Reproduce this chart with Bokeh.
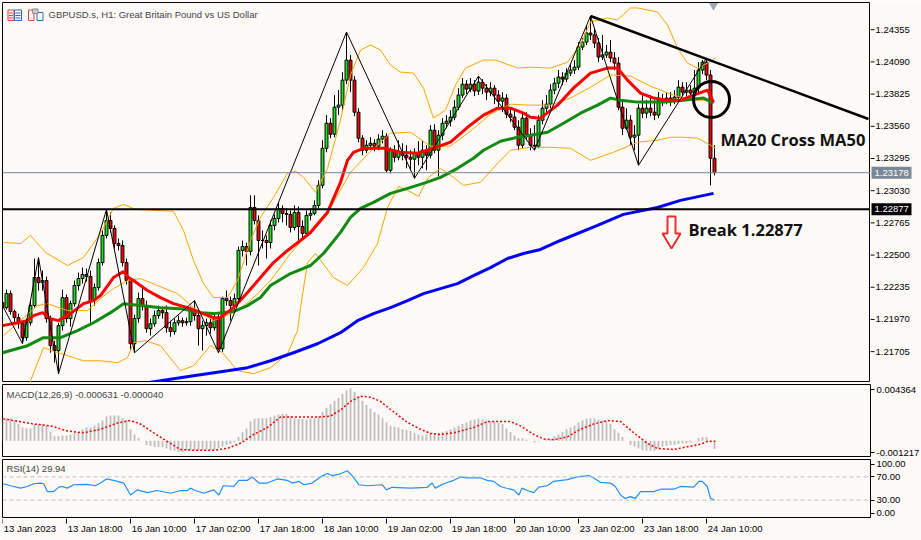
from bokeh.plotting import figure
from bokeh.layouts import column, row
from bokeh.models import Range1d, FixedTicker, Label, Span, ColumnDataSource
from bokeh.embed import file_html
from bokeh.resources import INLINE
from bokeh.core.properties import value

# ---------------- data ----------------
time_tick_bars = [0, 16, 32, 48, 64, 80, 96, 112, 128, 144, 160, 176]
time_tick_labels = ["13 Jan 2023", "13 Jan 18:00", "16 Jan 10:00", "17 Jan 02:00", "17 Jan 18:00",
                    "18 Jan 10:00", "19 Jan 02:00", "19 Jan 18:00", "20 Jan 10:00", "23 Jan 02:00",
                    "23 Jan 18:00", "24 Jan 10:00"]
price_ticks = [1.24355, 1.24090, 1.23825, 1.23560, 1.23295, 1.23030, 1.22765, 1.22500,
               1.22235, 1.21970, 1.21705]

first_open = 1.22108
closes = [
    1.22067, 1.22183, 1.22035, 1.21985, 1.21935, 1.21820, 1.21943, 1.22084, 1.22315, 1.22273,
    1.22290, 1.21977, 1.21754, 1.21713, 1.21919, 1.22150, 1.21977, 1.22100, 1.22249, 1.22307,
    1.22340, 1.22323, 1.22125, 1.22232, 1.22438, 1.22662, 1.22785, 1.22719, 1.22595, 1.22579,
    1.22438, 1.22290, 1.21770, 1.21977, 1.22142, 1.22084, 1.21894, 1.21935, 1.22002, 1.22043,
    1.22026, 1.21902, 1.21870, 1.21943, 1.21960, 1.21943, 1.21952, 1.22043, 1.22002, 1.21894,
    1.21919, 1.21943, 1.21902, 1.21977, 1.21729, 1.22142, 1.22125, 1.22084, 1.22142, 1.22538,
    1.22570, 1.22530, 1.22892, 1.22785, 1.22620, 1.22620, 1.22603, 1.22744, 1.22802, 1.22884,
    1.22843, 1.22835, 1.22727, 1.22851, 1.22735, 1.22678, 1.22827, 1.22843, 1.22909, 1.23074,
    1.23379, 1.23585, 1.23495, 1.23717, 1.23734, 1.23940, 1.24105, 1.23940, 1.23676, 1.23462,
    1.23363, 1.23404, 1.23420, 1.23396, 1.23454, 1.23478, 1.23198, 1.23363, 1.23305, 1.23346,
    1.23322, 1.23305, 1.23289, 1.23338, 1.23305, 1.23363, 1.23322, 1.23528, 1.23363, 1.23487,
    1.23585, 1.23602, 1.23635, 1.23717, 1.23817, 1.23907, 1.23866, 1.23907, 1.23850, 1.23923,
    1.23874, 1.23841, 1.23874, 1.23817, 1.23767, 1.23792, 1.23660, 1.23635, 1.23552, 1.23404,
    1.23627, 1.23487, 1.23404, 1.23396, 1.23610, 1.23709, 1.23742, 1.23858, 1.23915, 1.23965,
    1.23949, 1.23998, 1.24023, 1.24047, 1.24212, 1.24253, 1.24328, 1.24312, 1.24245, 1.24130,
    1.24147, 1.24171, 1.24122, 1.24080, 1.23717, 1.23544, 1.23610, 1.23470, 1.23487, 1.23709,
    1.23668, 1.23709, 1.23676, 1.23652, 1.23775, 1.23775, 1.23792, 1.23775, 1.23800, 1.23882,
    1.23841, 1.23858, 1.23833, 1.23874, 1.24023, 1.24088, 1.23982, 1.23297, 1.23178,
]
highs = [
    1.22142, 1.22216, 1.22208, 1.22051, 1.22018, 1.21952, 1.21977, 1.22125, 1.22472, 1.22480,
    1.22373, 1.22323, 1.22002, 1.21795, 1.21943, 1.22216, 1.22175, 1.22125, 1.22290, 1.22356,
    1.22397, 1.22389, 1.22373, 1.22265, 1.22472, 1.22703, 1.22876, 1.22851, 1.22744, 1.22637,
    1.22620, 1.22472, 1.22307, 1.22010, 1.22191, 1.22232, 1.22125, 1.21977, 1.22043, 1.22084,
    1.22076, 1.22084, 1.21960, 1.21977, 1.22002, 1.21985, 1.21985, 1.22076, 1.22125, 1.22026,
    1.21960, 1.21977, 1.21977, 1.22026, 1.22018, 1.22158, 1.22208, 1.22158, 1.22183, 1.22570,
    1.22620, 1.22603, 1.22992, 1.22992, 1.22827, 1.22703, 1.22662, 1.22785, 1.22835, 1.22925,
    1.22909, 1.22884, 1.22868, 1.22909, 1.22900, 1.22785, 1.22868, 1.22884, 1.22950, 1.23115,
    1.23445, 1.23652, 1.23627, 1.23817, 1.23858, 1.24006, 1.24336, 1.24147, 1.23973, 1.23709,
    1.23487, 1.23445, 1.23470, 1.23454, 1.23495, 1.23528, 1.23503, 1.23387, 1.23404, 1.23445,
    1.23420, 1.23404, 1.23363, 1.23379, 1.23437, 1.23445, 1.23404, 1.23569, 1.23577, 1.23528,
    1.23627, 1.23652, 1.23693, 1.23775, 1.23874, 1.23957, 1.23940, 1.23957, 1.23940, 1.23973,
    1.23949, 1.23907, 1.23923, 1.23899, 1.23858, 1.23841, 1.23825, 1.23709, 1.23693, 1.23610,
    1.23676, 1.23676, 1.23544, 1.23569, 1.23652, 1.23775, 1.23817, 1.23907, 1.23957, 1.24023,
    1.24006, 1.24039, 1.24072, 1.24105, 1.24253, 1.24287, 1.24394, 1.24468, 1.24369, 1.24287,
    1.24312, 1.24229, 1.24270, 1.24171, 1.24130, 1.23775, 1.23709, 1.23652, 1.23569, 1.23742,
    1.23817, 1.23775, 1.23817, 1.23775, 1.23841, 1.23825, 1.23841, 1.23841, 1.23858, 1.23940,
    1.23923, 1.23923, 1.23899, 1.24023, 1.24088, 1.24105, 1.24122, 1.24023, 1.23404,
]
lows = [
    1.22026, 1.22051, 1.22010, 1.21943, 1.21894, 1.21770, 1.21795, 1.21919, 1.22067, 1.22208,
    1.22208, 1.21943, 1.21696, 1.21614, 1.21523, 1.21878, 1.21943, 1.21910, 1.22076, 1.22208,
    1.22265, 1.22282, 1.21943, 1.22084, 1.22208, 1.22414, 1.22637, 1.22686, 1.22554, 1.22538,
    1.22406, 1.22257, 1.21713, 1.21696, 1.21943, 1.22043, 1.21861, 1.21837, 1.21910, 1.21977,
    1.21977, 1.21861, 1.21828, 1.21845, 1.21919, 1.21910, 1.21919, 1.21919, 1.21960, 1.21754,
    1.21713, 1.21837, 1.21853, 1.21878, 1.21696, 1.21704, 1.22084, 1.21960, 1.22043, 1.22108,
    1.22488, 1.22414, 1.22497, 1.22752, 1.22414, 1.22554, 1.22472, 1.22554, 1.22703, 1.22769,
    1.22769, 1.22744, 1.22686, 1.22703, 1.22603, 1.22637, 1.22653, 1.22785, 1.22827, 1.22884,
    1.23049, 1.23346, 1.23462, 1.23470, 1.23652, 1.23693, 1.23907, 1.23841, 1.23643, 1.23429,
    1.23322, 1.23338, 1.23363, 1.23354, 1.23363, 1.23420, 1.23181, 1.23173, 1.23264, 1.23280,
    1.23280, 1.23214, 1.23198, 1.23132, 1.23239, 1.23214, 1.23198, 1.23297, 1.23338, 1.23148,
    1.23445, 1.23544, 1.23560, 1.23610, 1.23693, 1.23792, 1.23825, 1.23841, 1.23808, 1.23817,
    1.23825, 1.23775, 1.23808, 1.23742, 1.23709, 1.23676, 1.23627, 1.23594, 1.23528, 1.23363,
    1.23379, 1.23445, 1.23363, 1.23363, 1.23379, 1.23577, 1.23676, 1.23709, 1.23825, 1.23874,
    1.23899, 1.23923, 1.23973, 1.23990, 1.24023, 1.24188, 1.24229, 1.24270, 1.24204, 1.24088,
    1.24105, 1.24122, 1.24088, 1.24023, 1.23693, 1.23487, 1.23528, 1.23404, 1.23363, 1.23239,
    1.23627, 1.23627, 1.23643, 1.23610, 1.23627, 1.23726, 1.23742, 1.23726, 1.23742, 1.23775,
    1.23808, 1.23808, 1.23792, 1.23808, 1.23841, 1.23990, 1.23940, 1.23074, 1.23156,
]

ma20_x = [0, 3.75, 6.25, 7.75, 10, 12, 14, 17, 20.25, 22.75, 24.5, 27.75, 30.25, 31.5, 32.75, 36.25,
          39.5, 42.75, 46.25, 49.5, 52.75, 54.5, 57.75, 61.25, 64.5, 67.75, 71.25, 74.5, 77, 81.25,
          84.5, 86.25, 87.75, 90.25, 95.25, 99.5, 103.75, 107.75, 112, 116.25, 120.25, 123.75, 127,
          130.25, 132, 134.5, 138.75, 142.75, 147, 151.25, 153.75, 156.25, 159.5, 162.75, 166.25,
          169.5, 172.75, 176.25, 177.75]
ma20_y = [1.21919, 1.21943, 1.21960, 1.22002, 1.22026, 1.21977, 1.21960, 1.22018, 1.22100, 1.22125,
          1.22167, 1.22315, 1.22364, 1.22315, 1.22290, 1.22208, 1.22150, 1.22100, 1.22067, 1.22026,
          1.21985, 1.21985, 1.22067, 1.22191, 1.22315, 1.22438, 1.22538, 1.22620, 1.22686, 1.22851,
          1.23099, 1.23280, 1.23346, 1.23379, 1.23379, 1.23346, 1.23338, 1.23379, 1.23429, 1.23552,
          1.23652, 1.23709, 1.23709, 1.23668, 1.23635, 1.23627, 1.23734, 1.23874, 1.23998, 1.24039,
          1.24039, 1.23940, 1.23833, 1.23792, 1.23775, 1.23775, 1.23817, 1.23858, 1.23759]

ma50_x = [0, 6.25, 10.25, 14.5, 18.75, 22.75, 27, 30.25, 34.5, 39.5, 44.5, 49.5, 52.75, 57.75, 61.25,
          64.5, 67, 72, 77, 80.25, 84.5, 87, 89.5, 92.75, 97, 101.25, 105.25, 109.5, 113.75, 117.75,
          120.25, 124.5, 128.75, 132, 136.25, 140.25, 144.5, 148.75, 152, 154.5, 158.75, 165.25,
          170.25, 175.25, 177.75]
ma50_y = [1.21696, 1.21754, 1.21820, 1.21820, 1.21878, 1.21943, 1.22026, 1.22100, 1.22084, 1.22067,
          1.22059, 1.22026, 1.22018, 1.22035, 1.22084, 1.22150, 1.22249, 1.22348, 1.22414, 1.22513,
          1.22687, 1.22810, 1.22884, 1.22934, 1.23008, 1.23049, 1.23090, 1.23140, 1.23214, 1.23297,
          1.23363, 1.23437, 1.23470, 1.23487, 1.23511, 1.23585, 1.23668, 1.23734, 1.23792, 1.23775,
          1.23759, 1.23759, 1.23775, 1.23792, 1.23750]

ma200_x = [37, 39.5, 47.75, 56.25, 61.25, 67, 72.75, 78.75, 84.5, 88.75, 92.75, 97, 101.25, 105.25,
           109.5, 113.75, 117.75, 122, 126.25, 130.25, 134.5, 139.5, 148.75, 155.25, 163.75, 169.5,
           177.75]
ma200_y = [1.21453, 1.21465, 1.21506, 1.21548, 1.21573, 1.21630, 1.21696, 1.21770, 1.21861, 1.21960,
           1.22018, 1.22067, 1.22125, 1.22183, 1.22224, 1.22265, 1.22331, 1.22397, 1.22472, 1.22513,
           1.22546, 1.22620, 1.22744, 1.22835, 1.22892, 1.22950, 1.23008]

bb_up_x = [0.25, 4.5, 7, 10.75, 16.25, 20.25, 24.5, 27.75, 30.25, 33.25, 42.75, 45.25, 47.75, 50.25,
           52.75, 56.25, 58.75, 62, 64.5, 67.75, 71.25, 73.25, 75.25, 78.25, 81.25, 84.5, 87, 89.5,
           92, 94.5, 97, 99.5, 102.75, 105.25, 107.75, 110.75, 113.25, 115.75, 120.25, 123.25,
           128.75, 132, 137, 141.25, 144.5, 147, 151.25, 153.75, 157, 158.75, 163.75, 166.25, 168.75,
           171.25, 173.75, 176.25, 178.25]
bb_up_y = [1.22603, 1.22595, 1.22662, 1.22521, 1.22414, 1.22480, 1.22678, 1.22884, 1.22917, 1.22876,
           1.22860, 1.22703, 1.22455, 1.22265, 1.22150, 1.22150, 1.22290, 1.22620, 1.22810, 1.22975,
           1.23173, 1.23190, 1.23140, 1.23016, 1.23214, 1.23610, 1.23982, 1.24188, 1.24229, 1.24188,
           1.24064, 1.24006, 1.23998, 1.23874, 1.23627, 1.23693, 1.23899, 1.24039, 1.24105, 1.24105,
           1.24039, 1.24047, 1.24039, 1.24088, 1.24229, 1.24419, 1.24452, 1.24435, 1.24534, 1.24534,
           1.24501, 1.24394, 1.24204, 1.24080, 1.24039, 1.24080, 1.24122]
bb_mid_x = [0.25, 4.5, 8.75, 11.25, 16.25, 21.25, 24.5, 27.75, 31.25, 34.5, 38.75, 43.75, 47.75,
            52.75, 57.75, 62, 67, 72, 77, 82, 87, 92, 97, 102, 107, 112, 117, 122, 127, 132, 137,
            142, 147, 152, 157, 162, 167, 172, 175.75, 178]
bb_mid_y = [1.21837, 1.21960, 1.22084, 1.22100, 1.22043, 1.22043, 1.22142, 1.22224, 1.22290, 1.22307,
            1.22249, 1.22183, 1.22067, 1.21960, 1.22026, 1.22125, 1.22290, 1.22513, 1.22703, 1.22892,
            1.23181, 1.23354, 1.23503, 1.23511, 1.23396, 1.23396, 1.23520, 1.23660, 1.23742, 1.23734,
            1.23734, 1.23792, 1.23882, 1.23982, 1.23973, 1.23890, 1.23825, 1.23775, 1.23775, 1.23759]
bb_lo_x = [6.5, 7, 10.25, 14, 20.25, 24.5, 28.75, 31.25, 32.75, 35.75, 39.5, 44.5, 47.75, 52, 55,
           58.75, 62.75, 67, 71.25, 73.75, 74.5, 76.25, 78.25, 82.75, 86.25, 90.25, 93.75, 96.25, 99,
           101.25, 104, 106.5, 109.5, 112.75, 115.25, 119.5, 123.75, 127, 132, 137, 142, 147, 152.75,
           158.75, 163.75, 167, 170.25, 173.75, 177, 178.25]
bb_lo_y = [1.21383, 1.21465, 1.21738, 1.21696, 1.21630, 1.21630, 1.21614, 1.21655, 1.21779, 1.21795,
           1.21754, 1.21548, 1.21589, 1.21754, 1.21696, 1.21548, 1.21523, 1.21573, 1.21688, 1.21878,
           1.22067, 1.22438, 1.22513, 1.22315, 1.22249, 1.22397, 1.22595, 1.22892, 1.23066, 1.23033,
           1.22983, 1.23140, 1.23214, 1.23140, 1.23074, 1.23099, 1.23255, 1.23363, 1.23387, 1.23387,
           1.23379, 1.23280, 1.23346, 1.23429, 1.23445, 1.23470, 1.23470, 1.23462, 1.23404, 1.23379]

zz_x = [0, 5, 9, 14, 26, 33, 48, 54, 86, 103, 119, 133, 147, 159, 176]
zz_y = [1.22084, 1.21770, 1.22480, 1.21523, 1.22876, 1.21696, 1.22125, 1.21696, 1.24336, 1.23132,
        1.23973, 1.23363, 1.24468, 1.23239, 1.24122]

trend_x = [147, 216.5]
trend_y = [1.24468, 1.23620]
break_level = 1.22877
bid_level = 1.23178

macd_hist = [
    0.00175, 0.00175, 0.00175, 0.00157, 0.00130, 0.00103, 0.00097, 0.00095, 0.00130, 0.00130,
    0.00130, 0.00116, 0.00068, 0.00035, 0.00035, 0.00041, 0.00041, 0.00049, 0.00062, 0.00068,
    0.00089, 0.00103, 0.00103, 0.00116, 0.00138, 0.00157, 0.00189, 0.00197, 0.00197, 0.00197,
    0.00175, 0.00157, 0.00089, 0.00049, 0.00022, 0.00000, -0.00032, -0.00041, -0.00046, -0.00046,
    -0.00046, -0.00059, -0.00073, -0.00078, -0.00086, -0.00086, -0.00078, -0.00073, -0.00073, -0.00073,
    -0.00073, -0.00068, -0.00073, -0.00073, -0.00059, -0.00046, -0.00032, -0.00024, -0.00014, 0.00030,
    0.00068, 0.00095, 0.00149, 0.00170, 0.00175, 0.00175, 0.00175, 0.00184, 0.00197, 0.00203,
    0.00208, 0.00208, 0.00192, 0.00175, 0.00170, 0.00170, 0.00165, 0.00175, 0.00175, 0.00192,
    0.00224, 0.00257, 0.00284, 0.00311, 0.00332, 0.00365, 0.00392, 0.00408, 0.00381, 0.00346,
    0.00311, 0.00278, 0.00251, 0.00224, 0.00203, 0.00175, 0.00143, 0.00116, 0.00111, 0.00103,
    0.00089, 0.00084, 0.00076, 0.00062, 0.00049, 0.00041, 0.00049, 0.00062, 0.00057, 0.00062,
    0.00068, 0.00076, 0.00089, 0.00103, 0.00116, 0.00130, 0.00143, 0.00157, 0.00165, 0.00170,
    0.00165, 0.00157, 0.00149, 0.00149, 0.00138, 0.00130, 0.00095, 0.00068, 0.00041, 0.00022,
    0.00022, 0.00008, 0.00000, -0.00014, -0.00005, 0.00000, 0.00008, 0.00014, 0.00035, 0.00049,
    0.00068, 0.00089, 0.00103, 0.00116, 0.00143, 0.00157, 0.00170, 0.00175, 0.00175, 0.00165,
    0.00157, 0.00149, 0.00130, 0.00089, 0.00062, 0.00030, 0.00000, -0.00032, -0.00046, -0.00059,
    -0.00073, -0.00078, -0.00078, -0.00078, -0.00059, -0.00046, -0.00041, -0.00032, -0.00032, -0.00024,
    -0.00019, -0.00019, -0.00014, 0.00000, 0.00022, 0.00030, 0.00030, -0.00005, -0.000631,
]
sig_x = [0.2, 2.8, 7.8, 12, 16.2, 20.3, 24.5, 28.7, 32, 34.5, 37.8, 41.2, 44.5, 47.8, 52.8, 56.2, 59.5,
         62.8, 66.2, 69.5, 74.5, 79.5, 82, 84.5, 87, 89.5, 92, 94.5, 97.8, 101.2, 104.5, 107, 109.5,
         112.8, 114.5, 117.8, 121.2, 127, 129.5, 132.8, 135.3, 137.8, 141.2, 144.5, 147.8, 151.2,
         154.5, 157.8, 161.2, 163.7, 167.8, 171.2, 174.5, 176.2, 178.2]
sig_y = [0.00170, 0.00157, 0.00130, 0.00116, 0.00076, 0.00062, 0.00089, 0.00138, 0.00157, 0.00130,
         0.00062, -0.00005, -0.00068, -0.00073, -0.00073, -0.00059, -0.00019, 0.00049, 0.00103, 0.00184,
         0.00184, 0.00184, 0.00192, 0.00238, 0.00305, 0.00346, 0.00338, 0.00305, 0.00224, 0.00143,
         0.00089, 0.00057, 0.00049, 0.00062, 0.00076, 0.00103, 0.00149, 0.00149, 0.00116, 0.00049,
         0.00014, 0.00008, 0.00030, 0.00089, 0.00130, 0.00157, 0.00149, 0.00062, -0.00019, -0.00059,
         -0.00068, -0.00046, -0.00027, -0.00005, -0.00004]
macd_min, macd_max = -0.001217, 0.004364

rsi_x = [0.2, 2, 4.5, 6.2, 7.8, 9.5, 10.3, 11.2, 12.8, 14.1,
         14.9, 16.2, 17.8, 21.2, 23.2, 24.5, 26, 27.8, 30.3, 32,
         33.7, 36.2, 38.7, 42, 44.5, 46.2, 47, 48.2, 50.3, 52.8,
         54.1, 55.2, 57.8, 59.1, 61.2, 62.4, 64.1, 66.2, 68.7, 71.2,
         72.4, 74.1, 75.3, 77.4, 79.5, 81.2, 82.4, 84.5, 86.2, 87.4,
         89.1, 91.2, 94.9, 96, 97.4, 102, 106.2, 107.4, 108.2, 110.3,
         112.8, 114.5, 116.2, 119.5, 121.2, 122.8, 124.5, 126.2, 127.8, 129.1,
         129.9, 131.2, 132.8, 134.1, 136.2, 137.8, 141.2, 143.7, 146.6, 147.8,
         149.5, 152, 153.2, 154.5, 155.7, 157, 158.2, 159.5, 162.8, 164.5,
         167.8, 169.5, 172.8, 174.1, 174.9, 176.2, 177, 178]
rsi_y = [58.2, 54.7, 50.6, 53.5, 58.2, 59.4, 58.2, 44.7, 44.7, 52.4,
         53.5, 50.6, 56.5, 57.0, 54.7, 59.4, 66.5, 64.1, 59.4, 38.8,
         47.6, 42.9, 46.5, 41.8, 46.5, 46.5, 50.6, 46.5, 41.8, 47.6,
         38.8, 54.7, 53.5, 64.1, 64.1, 70.0, 59.4, 59.4, 66.5, 64.1,
         59.4, 62.3, 56.5, 59.4, 70.0, 75.9, 72.3, 75.3, 80.6, 72.3,
         56.5, 54.7, 56.5, 47.6, 52.1, 50.6, 52.1, 59.4, 50.6, 58.2,
         64.1, 70.0, 68.2, 68.2, 64.1, 62.3, 53.5, 50.0, 47.6, 38.8,
         50.6, 46.5, 42.9, 52.4, 54.7, 62.3, 65.3, 70.0, 72.3, 68.2,
         60.6, 59.4, 53.5, 38.8, 32.9, 35.9, 32.9, 44.7, 44.7, 48.8,
         48.8, 53.5, 52.4, 62.3, 62.3, 53.5, 32.9, 29.94]
rsi_levels = [70, 30]

# ---------------- styling / layout ----------------
BG = "#fdfaf8"
FONT = "Liberation Sans"
BOLD_FONT = "Open Sans"
SMALL = "9.5px"
FW = 868          # plot-area width (4 px per hourly bar)
RIGHT = 51        # price-scale strip
MAIN_H = 380
PRICE_LO, PRICE_HI = 1.21451, 1.24579
xr = Range1d(0, 217)
yr_main = Range1d(PRICE_LO, PRICE_HI)


def bx(px):       # reference pixel column -> bar position (for decorations only)
    return (px - 2) / 4.0


def py(px):       # reference pixel row -> price (for decorations only)
    return PRICE_HI - (px - 2) * (PRICE_HI - PRICE_LO) / MAIN_H


def base_fig(frame_h, y_range, top, bottom, yaxis):
    p = figure(frame_width=FW, frame_height=frame_h, x_range=xr, y_range=y_range,
               output_backend="svg", toolbar_location=None, y_axis_location=yaxis,
               x_axis_location=None, min_border_left=2,
               min_border_right=(RIGHT if yaxis else 0),
               min_border_top=top, min_border_bottom=bottom,
               background_fill_color=BG, border_fill_color=BG)
    p.grid.visible = False
    p.outline_line_color = "black"
    p.outline_line_width = 1
    p.outline_line_alpha = 1.0
    if yaxis:
        ax = p.yaxis[0]
        ax.axis_line_color = None
        ax.major_tick_in = 0
        ax.major_tick_out = 4
        ax.minor_tick_line_color = None
        ax.major_tick_line_color = "black"
        ax.major_label_text_font = FONT
        ax.major_label_text_font_size = SMALL
        ax.major_label_text_color = "black"
        ax.major_label_standoff = 2
    return p


# ---------------- main price panel ----------------
p1 = base_fig(MAIN_H, yr_main, 2, 0, None)

n = len(closes)
idx = list(range(n))
opens = [first_open] + closes[:-1]
src = ColumnDataSource(dict(
    x=idx, h=highs, l=lows,
    top=[max(o, c) for o, c in zip(opens, closes)],
    bot=[min(o, c) for o, c in zip(opens, closes)],
    col=["#1ee61e" if c >= o else "#ff0000" for o, c in zip(opens, closes)],
))
p1.segment(x0="x", y0="l", x1="x", y1="h", source=src, line_color="black", line_width=1)
p1.vbar(x="x", width=0.72, top="top", bottom="bot", source=src, fill_color="col",
        line_color="black", line_width=1)

for bxs, bys in ((bb_up_x, bb_up_y), (bb_mid_x, bb_mid_y), (bb_lo_x, bb_lo_y)):
    p1.line(bxs, bys, line_color="#ffa500", line_width=1)
p1.line(ma200_x, ma200_y, line_color="#0000ff", line_width=3)
p1.line(ma50_x, ma50_y, line_color="#108a10", line_width=3)
p1.line(ma20_x, ma20_y, line_color="#ff0000", line_width=3)
p1.line(zz_x, zz_y, line_color="black", line_width=1)
p1.line(trend_x, trend_y, line_color="black", line_width=2.5)

p1.add_layout(Span(location=bid_level, dimension="width", line_color="#7b8897", line_width=1))
p1.add_layout(Span(location=break_level, dimension="width", line_color="black", line_width=2))

# circle marking the MA cross, arrow, shift marker
p1.scatter([bx(711)], [py(99)], marker="circle", size=36, fill_alpha=0,
           line_color="black", line_width=3)
p1.scatter([bx(713)], [py(5)], marker="inverted_triangle", size=9, fill_color="#a0a8b4",
           line_color=None)
arrow_px = [(667, 216), (675, 216), (675, 233), (680, 233), (671, 248), (662, 233), (667, 233)]
p1.patch([bx(a) for a, b in arrow_px], [py(b) for a, b in arrow_px], fill_color="white",
         line_color="#e8302a", line_width=2)

# little window icons before the title
p1.quad(left=[bx(7.5), bx(14)], right=[bx(13.5), bx(21)], top=[py(9.5), py(9.5)],
        bottom=[py(20), py(20)], fill_color=BG, line_color=["#d9423a", "#2b66c4"], line_width=1)
for yy in (12.5, 15, 17.5):
    p1.segment(x0=[bx(8.5), bx(15)], y0=[py(yy)] * 2, x1=[bx(12.5), bx(20)], y1=[py(yy)] * 2,
               line_color=["#d9423a", "#2b66c4"], line_width=1)
p1.quad(left=[bx(28), bx(36.5)], right=[bx(33.5), bx(42.5)], top=[py(9.5), py(12)],
        bottom=[py(20), py(20)], fill_color=BG, line_color=["#d9423a", "#2b66c4"], line_width=1)
p1.quad(left=[bx(32)], right=[bx(37.5)], top=[py(8.5)], bottom=[py(13)], fill_color="#c8c8c8",
        line_color="#8c8c8c", line_width=1)

p1.add_layout(Label(x=bx(720), y=py(139), text="MA20 Cross MA50", text_font=BOLD_FONT,
                    text_font_style="bold", text_font_size="16.5px", text_baseline="middle",
                    text_color="#111111"))
p1.add_layout(Label(x=bx(688), y=py(229), text="Break 1.22877", text_font=BOLD_FONT,
                    text_font_style="bold", text_font_size="16.5px", text_baseline="middle",
                    text_color="#111111"))
p1.add_layout(Label(x=bx(48), y=py(14), text="GBPUSD.s, H1:  Great Britain Pound vs US Dollar",
                    text_font=FONT, text_font_size=SMALL, text_baseline="middle"))

# price scale strip (own small figure so the boxed labels are not clipped)
s1 = figure(frame_width=RIGHT, frame_height=MAIN_H, x_range=Range1d(0, RIGHT), y_range=yr_main,
            output_backend="svg", toolbar_location=None, x_axis_location=None,
            y_axis_location=None, min_border_left=0, min_border_right=0, min_border_top=2,
            min_border_bottom=0, background_fill_color=BG, border_fill_color=BG)
s1.grid.visible = False
s1.outline_line_color = None
s1.segment(x0=[0] * len(price_ticks), y0=price_ticks, x1=[4] * len(price_ticks), y1=price_ticks,
           line_color="black", line_width=1)
s1.text(x=[5] * len(price_ticks), y=price_ticks, text=["%.5f" % v for v in price_ticks],
        text_align="left", text_baseline="middle", text_font=value(FONT),
        text_font_size=value(SMALL), text_color="black")
box_h = 6 * (PRICE_HI - PRICE_LO) / MAIN_H
s1.quad(left=[1, 1], right=[41, 41], top=[bid_level + box_h, break_level + box_h],
        bottom=[bid_level - box_h, break_level - box_h], fill_color=["#7b8897", "black"],
        line_color=None)
s1.text(x=[4, 4], y=[bid_level, break_level], text=["%.5f" % bid_level, "%.5f" % break_level],
        text_align="left", text_baseline="middle", text_font=value(FONT),
        text_font_size=value(SMALL), text_color="white")

# ---------------- MACD panel ----------------
p2 = base_fig(72, Range1d(macd_min, macd_max), 2, 1, "right")
px_per_unit = 72 / (macd_max - macd_min)
macd_top_tick = macd_max - 5 / px_per_unit
macd_bot_tick = macd_min + 4 / px_per_unit
p2.yaxis[0].ticker = FixedTicker(ticks=[macd_top_tick, macd_bot_tick])
p2.yaxis[0].major_label_overrides = {macd_top_tick: "%.6f" % macd_max,
                                     macd_bot_tick: "%.6f" % macd_min}
p2.vbar(x=idx, top=macd_hist, bottom=0, width=0.45, fill_color="#bdbdbd", line_color=None)
p2.line(sig_x, sig_y, line_color="#ff0000", line_dash="2 2", line_width=1.5)
p2.add_layout(Label(x=1, y=macd_max - 10 / px_per_unit, text="MACD(12,26,9) -0.000631 -0.000040",
                    text_font=FONT, text_font_size=SMALL, text_baseline="middle"))

# ---------------- RSI panel ----------------
p3 = base_fig(58, Range1d(0, 100), 2, 1, "right")
p3.yaxis[0].ticker = FixedTicker(ticks=[92, 70, 30, 7.5])
p3.yaxis[0].major_label_overrides = {92: "100.00", 70: "70.00", 30: "30.00", 7.5: "0.00"}
for lv in rsi_levels:
    p3.add_layout(Span(location=lv, dimension="width", line_color="#c0c0c0", line_width=1,
                       line_dash="4 3"))
p3.line(rsi_x, rsi_y, line_color="#1e90ff", line_width=1.2)
p3.add_layout(Label(x=1, y=84.5, text="RSI(14) 29.94", text_font=FONT, text_font_size=SMALL,
                    text_baseline="middle"))

# ---------------- time scale strip ----------------
p4 = figure(frame_width=FW, frame_height=22, x_range=xr, y_range=Range1d(0, 22),
            output_backend="svg", toolbar_location=None, x_axis_location=None,
            y_axis_location=None, min_border_left=2, min_border_right=RIGHT, min_border_top=0,
            min_border_bottom=0, background_fill_color=BG, border_fill_color=BG)
p4.grid.visible = False
p4.outline_line_color = None
p4.segment(x0=time_tick_bars, y0=[22] * len(time_tick_bars), x1=time_tick_bars,
           y1=[17] * len(time_tick_bars), line_color="black", line_width=1)
p4.text(x=[b + 0.3 for b in time_tick_bars], y=[12.5] * len(time_tick_bars), text=time_tick_labels,
        text_align="left", text_baseline="middle", text_font=value(FONT),
        text_font_size=value(SMALL), text_color="black")

layout = column(row(p1, s1), p2, p3, p4)
open("out.html", "w").write(file_html(layout, INLINE))
